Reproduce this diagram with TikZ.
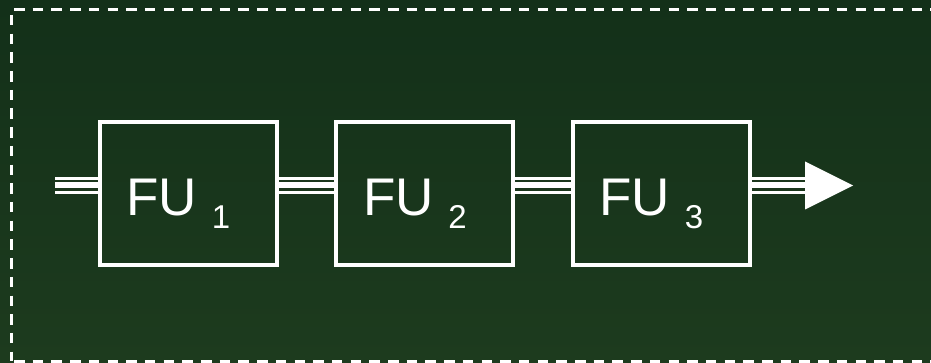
\documentclass[tikz,border=0pt]{standalone}
\usepackage{fontspec}
\setmainfont{Liberation Sans}
\usetikzlibrary{calc}

\definecolor{boardtop}{RGB}{19,48,25}
\definecolor{boardbot}{RGB}{29,59,30}
\definecolor{boardmid}{RGB}{26,55,28}

% lowered index after a unit name
\newcommand\fuindex[1]{\raisebox{-13pt}{\fontsize{33}{33}\selectfont #1}}

\tikzset{
  unitbox/.style={draw=white, line width=4pt, minimum width=177pt,
    minimum height=143.5pt, inner sep=0pt, outer sep=0pt},
  unitlabel/.style={text=white, inner sep=0pt, anchor=base west,
    font=\fontsize{53}{53}\selectfont},
  busouter/.style={draw=white, line width=17pt},
  businner/.style={draw=boardmid, line width=2.6pt, double=white,
    double distance=6pt},
  frame/.style={draw=white, line width=3pt, dash pattern=on 10.5pt off 8.2pt}
}

\begin{document}
\begin{tikzpicture}[x=1pt,y=-1pt]
  \useasboundingbox (0,0) rectangle (931,363);
  \clip (0,0) rectangle (931,363);
  \fill[top color=boardtop, bottom color=boardbot] (0,0) rectangle (931,363);

  % dashed enclosure, open past the right edge
  \draw[frame, dash phase=-3pt] (11,10) -- (945,10);
  \draw[frame, dash phase=-5pt] (11,10) -- (11,361);
  \draw[frame, dash phase=-3pt] (11,361) -- (945,361);

  % functional units
  \node[unitbox] (b1) at (188.4,193.75) {};
  \node[unitbox] (b2) at (424.9,193.75) {};
  \node[unitbox] (b3) at (661.4,193.75) {};

  % bus endpoints
  \coordinate (in) at (55,185.5);
  \coordinate (tip) at (853,185.5);
  \coordinate (base) at (805,185.5);

  % triple-line buses between the units
  \foreach \s/\t in {in/b1.west, b1.east/b2.west, b2.east/b3.west, b3.east/base} {
    \draw[busouter] (\s |- in) -- (\t |- in);
    \draw[businner] (\s |- in) -- (\t |- in);
  }

  % redraw the unit outlines over the bus ends
  \foreach \b in {b1,b2,b3} {
    \draw[draw=white, line width=4pt] (\b.north west) rectangle (\b.south east);
  }

  % output arrowhead
  \fill[white] (tip) -- ($(base)+(0,-24)$) -- ($(base)+(0,24)$) -- cycle;

  % unit labels
  \node[unitlabel] (t1) at ($(b1.center)+(-62,21.3)$) {FU \fuindex{1}};
  \node[unitlabel] (t2) at ($(b2.center)+(-62,21.3)$) {FU \fuindex{2}};
  \node[unitlabel] (t3) at ($(b3.center)+(-62,21.3)$) {FU \fuindex{3}};
\end{tikzpicture}
\end{document}
